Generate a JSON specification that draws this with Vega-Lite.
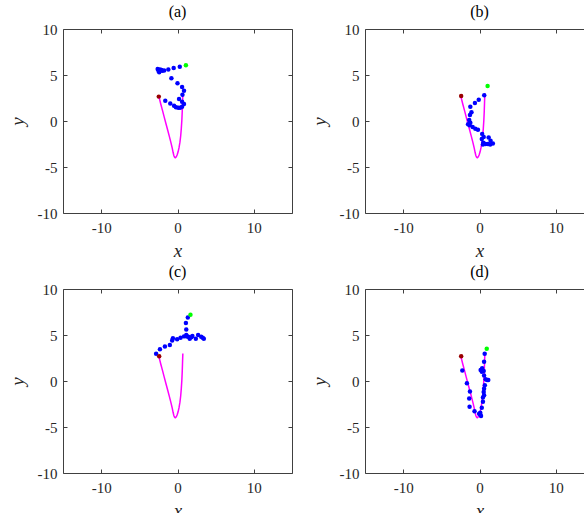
{
  "$schema": "https://vega.github.io/schema/vega-lite/v6.json",
  "background": "white",
  "padding": {"left": 8, "top": 4, "right": 5, "bottom": 5},
  "datasets": {
    "curve": [
      {"i": 0, "x": -2.45, "y": 2.7},
      {"i": 1, "x": -2.21, "y": 1.9},
      {"i": 2, "x": -1.95, "y": 1.1},
      {"i": 3, "x": -1.73, "y": 0.4},
      {"i": 4, "x": -1.51, "y": -0.3},
      {"i": 5, "x": -1.28, "y": -1.0},
      {"i": 6, "x": -1.06, "y": -1.7},
      {"i": 7, "x": -0.86, "y": -2.35},
      {"i": 8, "x": -0.69, "y": -2.95},
      {"i": 9, "x": -0.58, "y": -3.4},
      {"i": 10, "x": -0.48, "y": -3.75},
      {"i": 11, "x": -0.39, "y": -3.93},
      {"i": 12, "x": -0.3, "y": -4.0},
      {"i": 13, "x": -0.18, "y": -3.92},
      {"i": 14, "x": -0.05, "y": -3.7},
      {"i": 15, "x": 0.08, "y": -3.35},
      {"i": 16, "x": 0.2, "y": -2.9},
      {"i": 17, "x": 0.32, "y": -2.3},
      {"i": 18, "x": 0.42, "y": -1.6},
      {"i": 19, "x": 0.5, "y": -0.8},
      {"i": 20, "x": 0.57, "y": 0.1},
      {"i": 21, "x": 0.62, "y": 1.0},
      {"i": 22, "x": 0.66, "y": 2.0},
      {"i": 23, "x": 0.7, "y": 3.0}
    ],
    "pts": [
      {"panel": "a", "kind": "traj", "x": -1.6, "y": 2.2},
      {"panel": "a", "kind": "traj", "x": -0.95, "y": 1.9},
      {"panel": "a", "kind": "traj", "x": -0.45, "y": 1.65},
      {"panel": "a", "kind": "traj", "x": -0.2, "y": 1.5},
      {"panel": "a", "kind": "traj", "x": 0.1, "y": 1.45},
      {"panel": "a", "kind": "traj", "x": 0.35, "y": 1.45},
      {"panel": "a", "kind": "traj", "x": 0.6, "y": 1.55},
      {"panel": "a", "kind": "traj", "x": 0.85, "y": 1.85},
      {"panel": "a", "kind": "traj", "x": 0.6, "y": 2.1},
      {"panel": "a", "kind": "traj", "x": 0.2, "y": 2.4},
      {"panel": "a", "kind": "traj", "x": 0.65, "y": 2.85},
      {"panel": "a", "kind": "traj", "x": 0.85, "y": 3.3},
      {"panel": "a", "kind": "traj", "x": 0.6, "y": 3.7},
      {"panel": "a", "kind": "traj", "x": 0.0, "y": 4.1},
      {"panel": "a", "kind": "traj", "x": -0.8, "y": 4.65},
      {"panel": "a", "kind": "traj", "x": -2.4, "y": 5.3},
      {"panel": "a", "kind": "traj", "x": -2.5, "y": 5.5},
      {"panel": "a", "kind": "traj", "x": -2.3, "y": 5.6},
      {"panel": "a", "kind": "traj", "x": -2.6, "y": 5.65},
      {"panel": "a", "kind": "traj", "x": -2.1, "y": 5.55},
      {"panel": "a", "kind": "traj", "x": -2.0, "y": 5.45},
      {"panel": "a", "kind": "traj", "x": -1.75, "y": 5.5},
      {"panel": "a", "kind": "traj", "x": -1.2, "y": 5.6},
      {"panel": "a", "kind": "traj", "x": -0.5, "y": 5.75},
      {"panel": "a", "kind": "traj", "x": 0.3, "y": 5.9},
      {"panel": "a", "kind": "start", "x": -2.45, "y": 2.65},
      {"panel": "a", "kind": "end", "x": 1.1, "y": 6.05},

      {"panel": "b", "kind": "traj", "x": 0.62, "y": 2.8},
      {"panel": "b", "kind": "traj", "x": -0.1, "y": 2.3},
      {"panel": "b", "kind": "traj", "x": -0.6, "y": 1.95},
      {"panel": "b", "kind": "traj", "x": -1.2, "y": 1.55},
      {"panel": "b", "kind": "traj", "x": -1.05, "y": 0.95},
      {"panel": "b", "kind": "traj", "x": -1.25, "y": 0.65},
      {"panel": "b", "kind": "traj", "x": -1.35, "y": 0.1},
      {"panel": "b", "kind": "traj", "x": -1.5, "y": -0.35},
      {"panel": "b", "kind": "traj", "x": -1.3, "y": -0.45},
      {"panel": "b", "kind": "traj", "x": -1.2, "y": -0.2},
      {"panel": "b", "kind": "traj", "x": -0.9, "y": -0.65},
      {"panel": "b", "kind": "traj", "x": -0.55, "y": -0.85},
      {"panel": "b", "kind": "traj", "x": -0.2, "y": -0.95},
      {"panel": "b", "kind": "traj", "x": 0.35, "y": -1.4},
      {"panel": "b", "kind": "traj", "x": 0.55, "y": -1.75},
      {"panel": "b", "kind": "traj", "x": 0.3, "y": -1.95},
      {"panel": "b", "kind": "traj", "x": 0.5, "y": -2.35},
      {"panel": "b", "kind": "traj", "x": 0.8, "y": -2.5},
      {"panel": "b", "kind": "traj", "x": 0.45, "y": -2.55},
      {"panel": "b", "kind": "traj", "x": 1.2, "y": -1.8},
      {"panel": "b", "kind": "traj", "x": 1.45, "y": -2.15},
      {"panel": "b", "kind": "traj", "x": 1.75, "y": -2.45},
      {"panel": "b", "kind": "traj", "x": 1.4, "y": -2.55},
      {"panel": "b", "kind": "traj", "x": 1.1, "y": -2.5},
      {"panel": "b", "kind": "start", "x": -2.4, "y": 2.72},
      {"panel": "b", "kind": "end", "x": 1.06, "y": 3.8},

      {"panel": "c", "kind": "traj", "x": -2.8, "y": 2.97},
      {"panel": "c", "kind": "traj", "x": -2.3, "y": 3.44},
      {"panel": "c", "kind": "traj", "x": -1.65, "y": 3.74},
      {"panel": "c", "kind": "traj", "x": -1.0, "y": 3.92},
      {"panel": "c", "kind": "traj", "x": -0.7, "y": 4.4},
      {"panel": "c", "kind": "traj", "x": -0.6, "y": 4.65},
      {"panel": "c", "kind": "traj", "x": -0.05, "y": 4.55},
      {"panel": "c", "kind": "traj", "x": 0.4, "y": 4.7},
      {"panel": "c", "kind": "traj", "x": 0.85, "y": 4.85},
      {"panel": "c", "kind": "traj", "x": 1.15, "y": 5.0},
      {"panel": "c", "kind": "traj", "x": 1.4, "y": 4.8},
      {"panel": "c", "kind": "traj", "x": 1.6, "y": 4.6},
      {"panel": "c", "kind": "traj", "x": 1.95, "y": 4.9},
      {"panel": "c", "kind": "traj", "x": 2.4, "y": 4.6},
      {"panel": "c", "kind": "traj", "x": 2.7, "y": 5.0},
      {"panel": "c", "kind": "traj", "x": 3.1, "y": 4.8},
      {"panel": "c", "kind": "traj", "x": 3.3, "y": 4.7},
      {"panel": "c", "kind": "traj", "x": 3.45, "y": 4.6},
      {"panel": "c", "kind": "traj", "x": 1.25, "y": 4.85},
      {"panel": "c", "kind": "traj", "x": 1.8, "y": 4.75},
      {"panel": "c", "kind": "traj", "x": 1.15, "y": 5.6},
      {"panel": "c", "kind": "traj", "x": 1.1, "y": 6.3},
      {"panel": "c", "kind": "traj", "x": 1.35, "y": 6.9},
      {"panel": "c", "kind": "start", "x": -2.4, "y": 2.7},
      {"panel": "c", "kind": "end", "x": 1.7, "y": 7.2},

      {"panel": "d", "kind": "traj", "x": -2.25, "y": 1.15},
      {"panel": "d", "kind": "traj", "x": -1.65, "y": -0.25},
      {"panel": "d", "kind": "traj", "x": -1.25, "y": -1.15},
      {"panel": "d", "kind": "traj", "x": -1.35, "y": -1.9},
      {"panel": "d", "kind": "traj", "x": -1.3, "y": -2.8},
      {"panel": "d", "kind": "traj", "x": -0.65, "y": -3.3},
      {"panel": "d", "kind": "traj", "x": -0.05, "y": -3.55},
      {"panel": "d", "kind": "traj", "x": 0.1, "y": -3.65},
      {"panel": "d", "kind": "traj", "x": 0.2, "y": -3.8},
      {"panel": "d", "kind": "traj", "x": 0.1, "y": -3.45},
      {"panel": "d", "kind": "traj", "x": 0.3, "y": -2.9},
      {"panel": "d", "kind": "traj", "x": 0.45, "y": -2.25},
      {"panel": "d", "kind": "traj", "x": 0.45, "y": -1.8},
      {"panel": "d", "kind": "traj", "x": 0.6, "y": -1.55},
      {"panel": "d", "kind": "traj", "x": 0.55, "y": -1.2},
      {"panel": "d", "kind": "traj", "x": 0.6, "y": -0.85},
      {"panel": "d", "kind": "traj", "x": 0.7, "y": -0.45},
      {"panel": "d", "kind": "traj", "x": 1.0, "y": 0.1},
      {"panel": "d", "kind": "traj", "x": 1.15, "y": 0.1},
      {"panel": "d", "kind": "traj", "x": 0.8, "y": 0.2},
      {"panel": "d", "kind": "traj", "x": 0.6, "y": 0.6},
      {"panel": "d", "kind": "traj", "x": 0.35, "y": 1.4},
      {"panel": "d", "kind": "traj", "x": 0.15, "y": 1.2},
      {"panel": "d", "kind": "traj", "x": 0.3, "y": 1.0},
      {"panel": "d", "kind": "traj", "x": 0.55, "y": 1.1},
      {"panel": "d", "kind": "traj", "x": 0.6, "y": 2.1},
      {"panel": "d", "kind": "traj", "x": 0.68, "y": 2.95},
      {"panel": "d", "kind": "start", "x": -2.4, "y": 2.7},
      {"panel": "d", "kind": "end", "x": 0.95, "y": 3.5}
    ]
  },
  "columns": 2,
  "spacing": {"row": 76, "column": 73},
  "bounds": "flush",
  "concat": [
    {
      "title": {"text": "(a)"},
      "width": 229, "height": 184,
      "layer": [
        {"data": {"name": "curve"}, "mark": {"type": "line", "color": "#ff00ff", "strokeWidth": 1.5},
         "encoding": {
           "x": {"field": "x", "type": "quantitative", "scale": {"domain": [-15, 15], "nice": false, "zero": false}, "axis": {"orient": "bottom", "values": [-10, 0, 10], "title": "x"}},
           "y": {"field": "y", "type": "quantitative", "scale": {"domain": [-10, 10], "nice": false, "zero": false}, "axis": {"orient": "left", "values": [-10, -5, 0, 5, 10], "title": "y"}},
           "order": {"field": "i", "type": "quantitative"}}},
        {"data": {"name": "pts"}, "transform": [{"filter": "datum.panel === 'a'"}], "mark": {"type": "point", "filled": true, "size": 20, "opacity": 1},
         "encoding": {
           "x": {"field": "x", "type": "quantitative", "axis": {"orient": "top", "values": [-10, 0, 10], "labels": false, "title": null}},
           "y": {"field": "y", "type": "quantitative", "axis": {"orient": "right", "values": [-10, -5, 0, 5, 10], "labels": false, "title": null}},
           "color": {"field": "kind", "type": "nominal", "scale": {"domain": ["traj", "start", "end"], "range": ["#0000ff", "#990000", "#00ff00"]}, "legend": null}}}
      ],
      "resolve": {"axis": {"x": "independent", "y": "independent"}}
    },
    {
      "title": {"text": "(b)"},
      "width": 229, "height": 184,
      "layer": [
        {"data": {"name": "curve"}, "mark": {"type": "line", "color": "#ff00ff", "strokeWidth": 1.5},
         "encoding": {
           "x": {"field": "x", "type": "quantitative", "scale": {"domain": [-15, 15], "nice": false, "zero": false}, "axis": {"orient": "bottom", "values": [-10, 0, 10], "title": "x"}},
           "y": {"field": "y", "type": "quantitative", "scale": {"domain": [-10, 10], "nice": false, "zero": false}, "axis": {"orient": "left", "values": [-10, -5, 0, 5, 10], "title": "y"}},
           "order": {"field": "i", "type": "quantitative"}}},
        {"data": {"name": "pts"}, "transform": [{"filter": "datum.panel === 'b'"}], "mark": {"type": "point", "filled": true, "size": 20, "opacity": 1},
         "encoding": {
           "x": {"field": "x", "type": "quantitative", "axis": {"orient": "top", "values": [-10, 0, 10], "labels": false, "title": null}},
           "y": {"field": "y", "type": "quantitative", "axis": {"orient": "right", "values": [-10, -5, 0, 5, 10], "labels": false, "title": null}},
           "color": {"field": "kind", "type": "nominal", "scale": {"domain": ["traj", "start", "end"], "range": ["#0000ff", "#990000", "#00ff00"]}, "legend": null}}}
      ],
      "resolve": {"axis": {"x": "independent", "y": "independent"}}
    },
    {
      "title": {"text": "(c)"},
      "width": 229, "height": 184,
      "layer": [
        {"data": {"name": "curve"}, "mark": {"type": "line", "color": "#ff00ff", "strokeWidth": 1.5},
         "encoding": {
           "x": {"field": "x", "type": "quantitative", "scale": {"domain": [-15, 15], "nice": false, "zero": false}, "axis": {"orient": "bottom", "values": [-10, 0, 10], "title": "x"}},
           "y": {"field": "y", "type": "quantitative", "scale": {"domain": [-10, 10], "nice": false, "zero": false}, "axis": {"orient": "left", "values": [-10, -5, 0, 5, 10], "title": "y"}},
           "order": {"field": "i", "type": "quantitative"}}},
        {"data": {"name": "pts"}, "transform": [{"filter": "datum.panel === 'c'"}], "mark": {"type": "point", "filled": true, "size": 20, "opacity": 1},
         "encoding": {
           "x": {"field": "x", "type": "quantitative", "axis": {"orient": "top", "values": [-10, 0, 10], "labels": false, "title": null}},
           "y": {"field": "y", "type": "quantitative", "axis": {"orient": "right", "values": [-10, -5, 0, 5, 10], "labels": false, "title": null}},
           "color": {"field": "kind", "type": "nominal", "scale": {"domain": ["traj", "start", "end"], "range": ["#0000ff", "#990000", "#00ff00"]}, "legend": null}}}
      ],
      "resolve": {"axis": {"x": "independent", "y": "independent"}}
    },
    {
      "title": {"text": "(d)"},
      "width": 229, "height": 184,
      "layer": [
        {"data": {"name": "curve"}, "mark": {"type": "line", "color": "#ff00ff", "strokeWidth": 1.5},
         "encoding": {
           "x": {"field": "x", "type": "quantitative", "scale": {"domain": [-15, 15], "nice": false, "zero": false}, "axis": {"orient": "bottom", "values": [-10, 0, 10], "title": "x"}},
           "y": {"field": "y", "type": "quantitative", "scale": {"domain": [-10, 10], "nice": false, "zero": false}, "axis": {"orient": "left", "values": [-10, -5, 0, 5, 10], "title": "y"}},
           "order": {"field": "i", "type": "quantitative"}}},
        {"data": {"name": "pts"}, "transform": [{"filter": "datum.panel === 'd'"}], "mark": {"type": "point", "filled": true, "size": 20, "opacity": 1},
         "encoding": {
           "x": {"field": "x", "type": "quantitative", "axis": {"orient": "top", "values": [-10, 0, 10], "labels": false, "title": null}},
           "y": {"field": "y", "type": "quantitative", "axis": {"orient": "right", "values": [-10, -5, 0, 5, 10], "labels": false, "title": null}},
           "color": {"field": "kind", "type": "nominal", "scale": {"domain": ["traj", "start", "end"], "range": ["#0000ff", "#990000", "#00ff00"]}, "legend": null}}}
      ],
      "resolve": {"axis": {"x": "independent", "y": "independent"}}
    }
  ],
  "config": {
    "view": {"stroke": null},
    "title": {"font": "Liberation Serif", "fontSize": 16, "fontWeight": "normal", "color": "#000000", "offset": 2},
    "axis": {
      "grid": false,
      "domainColor": "#404040",
      "domainWidth": 1,
      "tickColor": "#404040",
      "tickSize": -4,
      "labelFont": "Liberation Serif",
      "labelFontSize": 15,
      "labelColor": "#262626",
      "labelExpr": "replace(datum.label, '\u2212', '-')",
      "titleFont": "Liberation Serif",
      "titleFontSize": 19,
      "titleFontStyle": "italic",
      "titleFontWeight": "normal",
      "titleColor": "#262626"
    },
    "axisX": {"labelPadding": 11, "titlePadding": 6},
    "axisY": {"labelPadding": 10, "titlePadding": 10}
  }
}
